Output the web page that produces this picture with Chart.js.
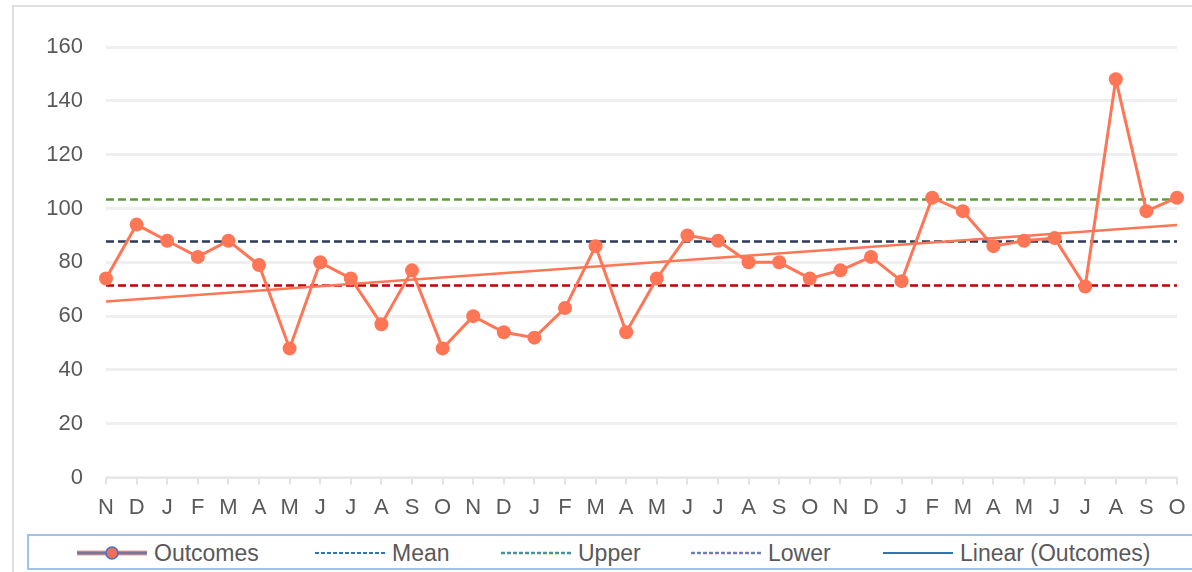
<!DOCTYPE html>
<html>
<head>
<meta charset="utf-8">
<script src="https://cdn.jsdelivr.net/npm/chart.js@4"></script>
<style>
html, body { margin: 0; padding: 0; background: #ffffff; }
body { width: 1192px; height: 572px; position: relative; overflow: hidden; font-family: "Liberation Sans", Arial, sans-serif; }
.card { position: absolute; left: 12px; top: 5px; width: 1300px; height: 700px; border-top: 2px solid #dedede; border-left: 2px solid #dedede; }
.wrap { position: absolute; left: 0; top: 0; width: 1192px; height: 533px; }
.legend { position: absolute; left: 27px; top: 534px; width: 1250px; height: 36px; box-sizing: border-box; border: 2px solid #9dc3e6; }
.item { position: absolute; top: 1px; height: 32px; display: flex; align-items: center; color: #595959; font-size: 23px; }
.item svg { margin-right: 7px; }
</style>
</head>
<body>
<div class="card"></div>
<div class="wrap"><canvas id="spcChart"></canvas></div>
<div class="legend" id="legend"></div>
<script>
// ========================================
// Data
// ========================================

const labels = ["N","D","J","F","M","A","M","J","J","A","S","O",
"N","D","J","F","M","A","M","J","J","A","S","O",
"N","D","J","F","M","A","M","J","J","A","S","O"];

const outcomes = [74,94,88,82,88,79,48,80,74,57,77,48,
60,54,52,63,86,54,74,90,88,80,80,74,
77,82,73,104,99,86,88,89,71,148,99,104];

const meanValue = 87.7;
const upperValue = 103.3;
const lowerValue = 71.4;

// trendline end points
const trendStart = 65.4;
const trendEnd = 93.9;

const yTicks = [0,20,40,60,80,100,120,140,160];

const seriesNames = ["Outcomes","Mean","Upper","Lower","Linear (Outcomes)"];

// ========================================
// Chart
// ========================================

const coral = "#ff7656";

const flat = v => labels.map(() => v);

const trend = labels.map((_, i) => i === 0 ? trendStart : (i === labels.length - 1 ? trendEnd : null));

new Chart(document.getElementById("spcChart"), {
  type: "line",
  data: {
    labels: labels,
    datasets: [
      {
        label: seriesNames[0],
        data: outcomes,
        borderColor: coral,
        backgroundColor: coral,
        borderWidth: 3,
        pointRadius: 7,
        pointBorderWidth: 0,
        pointBackgroundColor: coral,
        tension: 0,
        clip: false,
        order: 0
      },
      {
        label: seriesNames[1],
        data: flat(meanValue),
        borderColor: "#2b3a57",
        borderWidth: 2.5,
        borderDash: [8, 4],
        pointRadius: 0,
        order: 2
      },
      {
        label: seriesNames[2],
        data: flat(upperValue),
        borderColor: "#5f9a3c",
        borderWidth: 2.5,
        borderDash: [8, 4],
        pointRadius: 0,
        order: 2
      },
      {
        label: seriesNames[3],
        data: flat(lowerValue),
        borderColor: "#c00000",
        borderWidth: 2.5,
        borderDash: [8, 4],
        pointRadius: 0,
        order: 2
      },
      {
        label: seriesNames[4],
        data: trend,
        spanGaps: true,
        borderColor: coral,
        borderWidth: 2.5,
        pointRadius: 0,
        order: 1
      }
    ]
  },
  options: {
    responsive: true,
    maintainAspectRatio: false,
    animation: false,
    layout: { padding: { left: 46, right: 15, top: 47, bottom: 2 } },
    plugins: {
      legend: { display: false },
      tooltip: { enabled: false }
    },
    scales: {
      x: {
        offset: false,
        afterFit: scale => { scale.paddingLeft = 0; scale.paddingRight = 0; },
        grid: { display: true, drawOnChartArea: false, drawTicks: true, tickLength: 7, color: "#e2e2e2", lineWidth: 2 },
        border: { display: true, color: "#e6e6e6", width: 2 },
        ticks: {
          color: "#595959",
          font: { family: "Liberation Sans", size: 22 },
          padding: 10,
          autoSkip: false,
          maxRotation: 0,
          minRotation: 0
        }
      },
      y: {
        min: 0,
        max: 160,
        afterBuildTicks: scale => { scale.ticks = yTicks.map(v => ({ value: v })); },
        afterFit: scale => { scale.width = 60; },
        grid: { color: "#efefef", lineWidth: 3, drawTicks: false },
        border: { display: false },
        ticks: {
          color: "#595959",
          font: { family: "Liberation Sans", size: 22 },
          padding: 23
        }
      }
    }
  }
});

// ========================================
// Legend (boxed, Excel style)
// ========================================

const legendLefts = [48, 286, 472, 662, 854];

const sampleSvg = [
  '<svg width="70" height="16"><line x1="0" y1="8" x2="70" y2="8" stroke="#f2a08e" stroke-width="5"/><line x1="0" y1="8" x2="70" y2="8" stroke="#76769a" stroke-width="3"/><circle cx="35" cy="8" r="6" fill="#f26e55" stroke="#4472c4" stroke-width="1.5"/></svg>',
  '<svg width="70" height="16"><line x1="0" y1="8" x2="70" y2="8" stroke="#2e75b6" stroke-width="2" stroke-dasharray="4 2"/></svg>',
  '<svg width="70" height="16"><line x1="0" y1="8" x2="70" y2="8" stroke="#a9d18e" stroke-width="3" stroke-dasharray="4 2"/><line x1="0" y1="8" x2="70" y2="8" stroke="#2e75b6" stroke-width="1.5" stroke-dasharray="4 2"/></svg>',
  '<svg width="70" height="16"><line x1="0" y1="8" x2="70" y2="8" stroke="#f4b0b0" stroke-width="3" stroke-dasharray="4 2"/><line x1="0" y1="8" x2="70" y2="8" stroke="#2e75b6" stroke-width="1.5" stroke-dasharray="4 2"/></svg>',
  '<svg width="70" height="16"><line x1="0" y1="8" x2="70" y2="8" stroke="#2e75b6" stroke-width="2"/></svg>'
];

const legendBox = document.getElementById("legend");

seriesNames.forEach((name, i) => {
  const el = document.createElement("div");
  el.className = "item";
  el.style.left = legendLefts[i] + "px";
  el.innerHTML = sampleSvg[i] + "<span>" + name + "</span>";
  legendBox.appendChild(el);
});
</script>
</body>
</html>
